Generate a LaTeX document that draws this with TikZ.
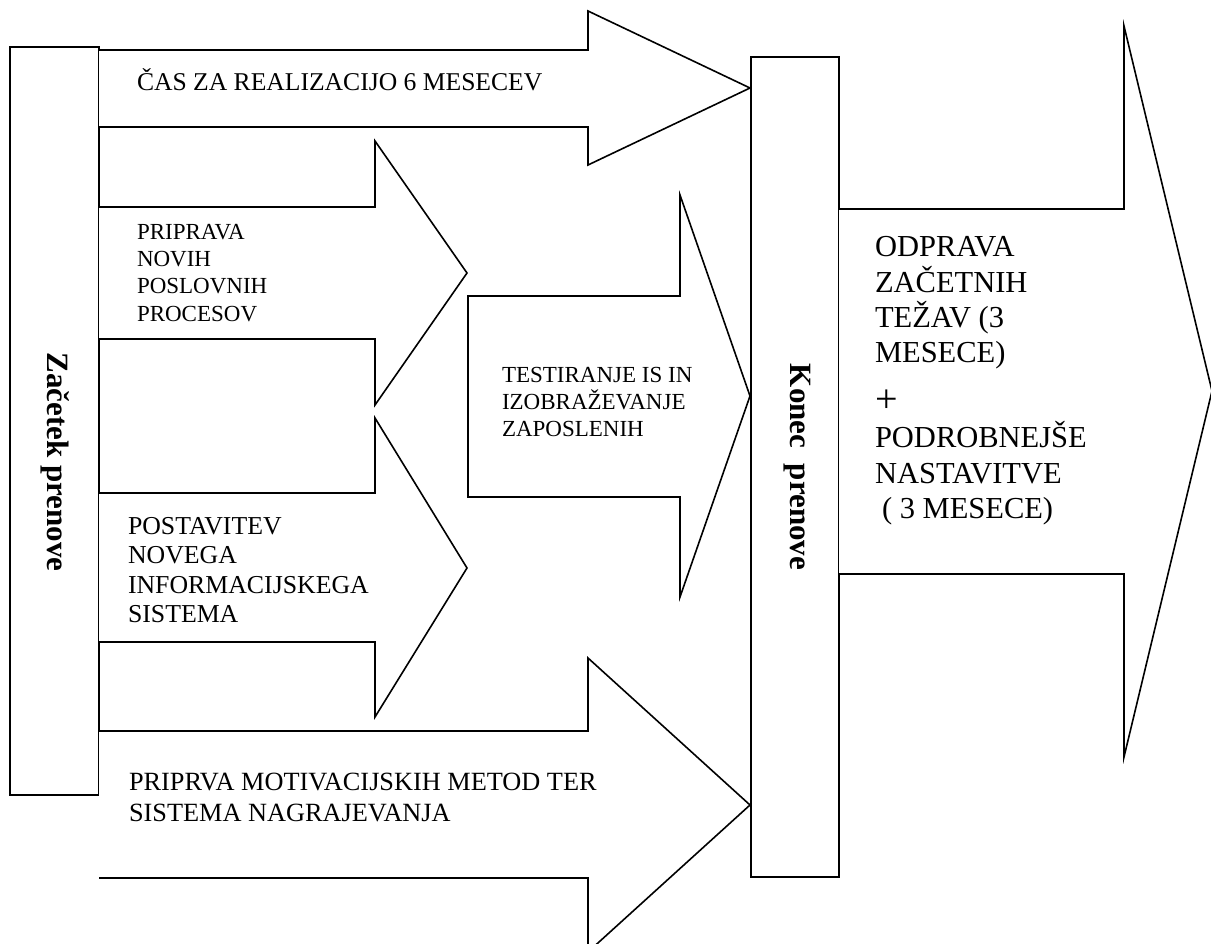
\documentclass[tikz,border=0pt]{standalone}
\usepackage{fontspec}
\setmainfont{Liberation Serif}
\begin{document}
\begin{tikzpicture}[x=1pt,y=-1pt,
  shape line/.style={draw=black,line width=1.6pt,line join=miter,fill=white},
  lab/.style={anchor=base west,inner sep=0pt,outer sep=0pt},
  fA/.style={font=\fontsize{25.6}{30}\selectfont},
  fB/.style={font=\fontsize{23}{27}\selectfont},
  fC/.style={font=\fontsize{25.8}{30}\selectfont},
  fE/.style={font=\fontsize{26.3}{30}\selectfont},
  fD/.style={font=\fontsize{30.5}{35}\selectfont},
  vlab/.style={rotate=-90,inner sep=0pt,font=\fontsize{31}{36}\selectfont\bfseries}]
\useasboundingbox (0,0) rectangle (1211,944);
\begin{scope}
\clip (0,0) rectangle (1211,944);
% start and end bars
\draw[shape line] (10,47) rectangle (99,795);
\draw[shape line] (751,57) rectangle (839,877);
% block arrows
\draw[shape line] (99,50) -- (588,50) -- (588,11) -- (750,88) -- (588,165) -- (588,127) -- (99,127);
\draw[shape line] (99,207) -- (375,207) -- (375,141) -- (467,273) -- (375,405) -- (375,339) -- (99,339);
\draw[shape line] (99,493) -- (375,493) -- (375,418) -- (467,568) -- (375,717) -- (375,642) -- (99,642);
\draw[shape line] (99,731) -- (588,731) -- (588,658) -- (750,805) -- (588,952) -- (588,878) -- (99,878);
\draw[shape line] (468,296) -- (680,296) -- (680,195) -- (750,396) -- (680,597) -- (680,497) -- (468,497) -- cycle;
\draw[shape line] (839,209) -- (1124,209) -- (1124,26) -- (1212,391) -- (1124,757) -- (1124,574) -- (839,574);
\end{scope}
% vertical labels
\node[vlab] (start) at (55,462) {Začetek prenove};
\node[vlab] (end) at (797,467) {Konec\ \ prenove};
% texts
\node[lab,fA] (cas) at (137,91) {ČAS ZA REALIZACIJO 6 MESECEV};
\foreach \t [count=\i] in {PRIPRAVA,NOVIH,POSLOVNIH,PROCESOV}
  \node[lab,fB] (p\i) at (137,{240+27*(\i-1)}) {\t};
\foreach \t [count=\i] in {TESTIRANJE IS IN,IZOBRAŽEVANJE,ZAPOSLENIH}
  \node[lab,fB] (t\i) at (502,{382+27*(\i-1)}) {\t};
\foreach \t [count=\i] in {POSTAVITEV,NOVEGA,INFORMACIJSKEGA,SISTEMA}
  \node[lab,fC] (s\i) at (128,{534+29.6*(\i-1)}) {\t};
\node[lab,fE] (m1) at (129,790) {PRIPRVA MOTIVACIJSKIH METOD TER};
\node[lab,fE] (m2) at (129,821) {SISTEMA NAGRAJEVANJA};
\foreach \t [count=\i] in {ODPRAVA,ZAČETNIH,TEŽAV (3,MESECE)}
  \node[lab,fD] (o\i) at (875,{257+35.3*(\i-1)}) {\t};
\node[lab,font=\fontsize{40}{40}\selectfont] (plus) at (875,412) {+};
\node[lab,fD] (n1) at (875,447) {PODROBNEJŠE};
\node[lab,fD] (n2) at (875,483) {NASTAVITVE};
\node[lab,fD] (n3) at (882,518) {( 3 MESECE)};
\end{tikzpicture}
\end{document}
